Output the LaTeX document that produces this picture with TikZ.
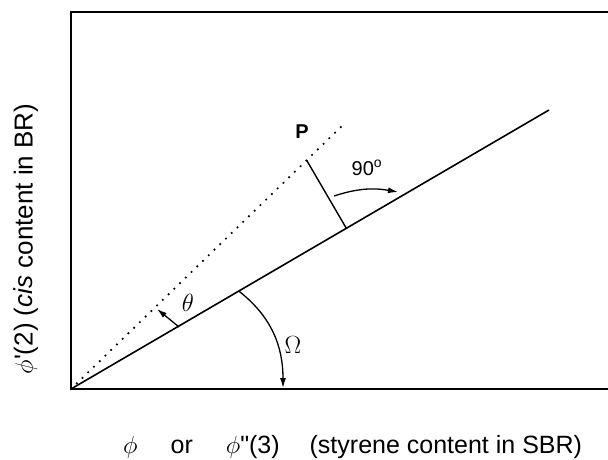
\documentclass[tikz,border=0pt]{standalone}
\usepackage{fontspec}
\setmainfont{Liberation Sans}
\usetikzlibrary{arrows.meta,calc,positioning}

\begin{document}
\begin{tikzpicture}[x=1pt,y=1pt,
    frame/.style={line width=1.6pt},
    ray/.style={line width=1.6pt},
    guide/.style={line width=2.4pt, dash pattern=on 0pt off 8pt, line cap=round},
    turn/.style={line width=1.3pt, -{Latex[length=10pt,width=6pt]}},
    axislbl/.style={font=\fontsize{25}{30}\selectfont, inner sep=0pt},
    anglbl/.style={font=\fontsize{24}{28}\selectfont, inner sep=0pt}]
  \useasboundingbox (0,0) rectangle (608,459);

  % Frame (open on the right)
  \coordinate (O) at (71,70);
  \coordinate (TL) at (71,447);
  \coordinate (TR) at (608,447);
  \coordinate (BR) at (608,70);
  \draw[frame] (BR) -- (O) -- (TL) -- (TR);

  % Solid and dotted rays
  \coordinate (S) at (549,349);
  \coordinate (D) at (345,336);
  \draw[ray] (O) -- (S);
  \draw[guide] (O) -- (D);

  % Perpendicular from P onto the solid ray
  \coordinate (Pp) at ($(O)!0.86!(D)$);
  \coordinate (Pf) at ($(O)!(Pp)!(S)$);
  \draw[line width=1.4pt] (Pp) -- (Pf);
  \node[font=\bfseries\fontsize{20}{24}\selectfont, inner sep=0pt] (plbl) at (302,327) {P};

  % 90 degree turn
  \coordinate (Ra) at (334,263);
  \coordinate (Rb) at (398,267);
  \draw[turn] (Ra) to[out=18,in=170] (Rb);
  \node[font=\fontsize{20}{24}\selectfont, inner sep=0pt] (rlbl) at (367,291) {90\textsuperscript{o}};

  % Theta
  \coordinate (Ta) at (179,132);
  \coordinate (Tb) at (157,150);
  \draw[turn] (Ta) -- (Tb);
  \node[anglbl, font=\fontsize{27}{30}\selectfont] (tlbl) at (188,156) {$\theta$};

  % Omega
  \coordinate (Wa) at ($(O)!0.351!(S)$);
  \coordinate (Wb) at (283,71);
  \draw[turn] (Wa) to[out=-38,in=90] (Wb);
  \node[anglbl] (wlbl) at (293,114) {$\Omega$};

  % Axis labels
  \node[axislbl, font=\fontsize{26}{30}\selectfont, rotate=90] (ylbl) at (26,220)
    {$\phi$\textquotesingle(2) (\textit{cis} content in BR)};
  \node[axislbl, anchor=base west] (xlbl) at (123,6)
    {$\phi$\hspace{33pt}or\hspace{33pt}$\phi$\textquotedbl(3)\hspace{30pt}(styrene content in SBR)};
\end{tikzpicture}
\end{document}
